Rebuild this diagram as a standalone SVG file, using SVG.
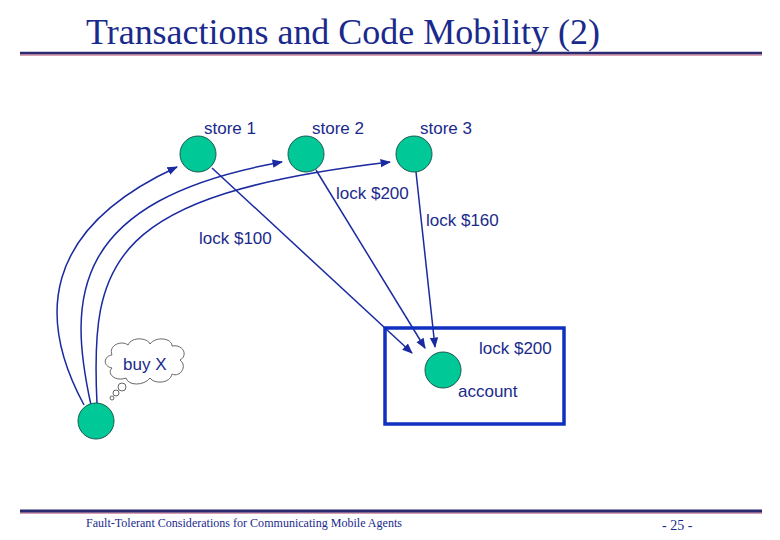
<svg xmlns="http://www.w3.org/2000/svg" width="780" height="540" viewBox="0 0 780 540">
<style>
.t{font-family:"Liberation Sans",Arial,sans-serif;font-size:17px;fill:#1a2a8c}
.n{fill:#00c896;stroke:#1a5a50;stroke-width:1}
.c{fill:none;stroke:#1a2aa0;stroke-width:1.5;marker-end:url(#a)}
</style>
<defs><marker id="a" viewBox="0 0 10 10" refX="9" refY="5" markerWidth="7" markerHeight="7" orient="auto"><path d="M0,1 L10,5 L0,9 z" fill="#1a2aa0"/></marker></defs>
<rect width="780" height="540" fill="#fff"/>
<text x="86" y="44" font-family="Liberation Serif,serif" font-size="35" fill="#1a2a8c" textLength="514" lengthAdjust="spacingAndGlyphs">Transactions and Code Mobility (2)</text>
<line x1="20" y1="55" x2="762" y2="55" stroke="#d8a0b0" stroke-width="2"/>
<line x1="20" y1="53" x2="762" y2="53" stroke="#2a2a70" stroke-width="2.5"/>
<line x1="20" y1="513" x2="762" y2="513" stroke="#d8a0b0" stroke-width="2"/>
<line x1="20" y1="511" x2="762" y2="511" stroke="#2a2a70" stroke-width="3"/>
<text x="86" y="527" font-family="Liberation Serif,serif" font-size="12" fill="#1a2a8c" textLength="316" lengthAdjust="spacingAndGlyphs">Fault-Tolerant Considerations for Communicating Mobile Agents</text>
<text x="662" y="530" font-family="Liberation Serif,serif" font-size="14" fill="#1a2a8c">- 25 -</text>
<g id="connectors">
<path class="c" d="M84,405 C38,320 40,230 177,167"/>
<path class="c" d="M91,405 C68,300 68,200 282,162"/>
<path class="c" d="M97,404 C90,260 110,195 390,162"/>
<path class="c" d="M212,168 L412,353"/>
<path class="c" d="M316,170 L425,348"/>
<path class="c" d="M416,172 L435,347"/>
</g>
<g id="store1"><circle class="n" cx="198" cy="154" r="18"/><text class="t" x="204" y="134">store 1</text></g>
<g id="store2"><circle class="n" cx="306" cy="154" r="18"/><text class="t" x="312" y="134">store 2</text></g>
<g id="store3"><circle class="n" cx="414" cy="154" r="18"/><text class="t" x="420" y="134">store 3</text></g>
<g id="labels">
<text class="t" x="336" y="199">lock $200</text>
<text class="t" x="426" y="226">lock $160</text>
<text class="t" x="199" y="244">lock $100</text>
</g>
<g id="account">
<rect x="385" y="328" width="179" height="96" fill="none" stroke="#1030c0" stroke-width="3.5"/>
<circle class="n" cx="443" cy="370" r="18"/>
<text class="t" x="479" y="354">lock $200</text>
<text class="t" x="458" y="397">account</text>
</g>
<g id="agent">
<circle class="n" cx="96" cy="421" r="18"/>
<path d="M112,355 C108,345 122,340 128,345 C132,336 148,338 150,344 C156,336 172,338 172,346 C184,344 188,356 180,360 C188,366 180,378 172,374 C170,384 154,384 150,378 C144,386 128,386 126,378 C116,382 106,374 112,368 C102,366 104,356 112,355 Z" fill="#fff" stroke="#666" stroke-width="1"/>
<circle cx="122" cy="387" r="4" fill="#fff" stroke="#666"/>
<circle cx="116" cy="393" r="3" fill="#fff" stroke="#666"/>
<circle cx="112" cy="398" r="2" fill="#fff" stroke="#666"/>
<text class="t" x="123" y="370">buy X</text>
</g>
</svg>
